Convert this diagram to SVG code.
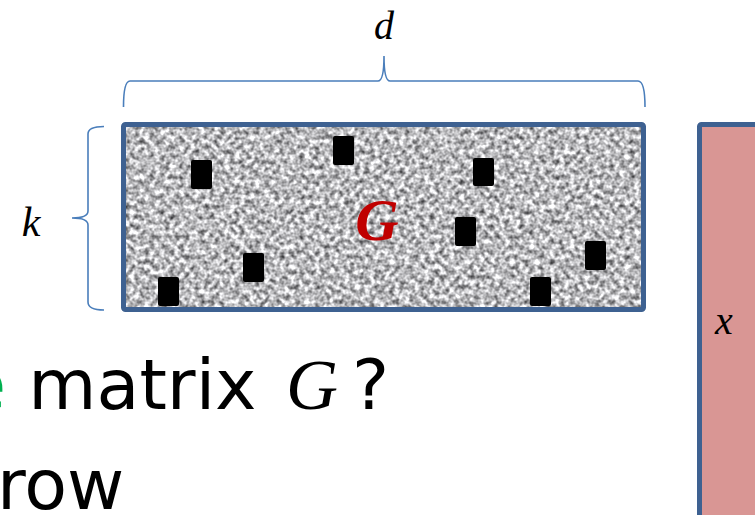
<svg xmlns="http://www.w3.org/2000/svg" width="755" height="515" viewBox="0 0 755 515">
<style>
.brace{fill:none;stroke:#4a7ebb;stroke-width:1.6}
.box{stroke:#3e6191;stroke-width:5}
.blk{fill:#000}
.math{font-family:"Liberation Serif",serif;font-style:italic;fill:#000}
.body{font-family:"DejaVu Sans",sans-serif;font-size:70px;fill:#000}
</style>
<defs>
<filter id="noise" x="0" y="0" width="1" height="1" color-interpolation-filters="sRGB">
<feTurbulence type="fractalNoise" baseFrequency="0.2" numOctaves="2" seed="7" result="n"/>
<feColorMatrix in="n" type="matrix" values="1.3 0 0 0 0.08  1.3 0 0 0 0.08  1.3 0 0 0 0.09  0 0 0 0 1"/>
</filter>
</defs>
<g id="brace-d">
<path class="brace" d="M123.5,107 Q123.5,81 130,81 L378,81 Q384,81 384,56 Q384,81 390,81 L638,81 Q645,81 645,107"/>
<text class="math" x="384" y="39" font-size="40" text-anchor="middle">d</text>
</g>
<g id="brace-k">
<path class="brace" d="M104,126.5 Q88,126.5 88,134 L88,211 Q88,218 72,218 Q88,218 88,225 L88,302 Q88,310 104,310"/>
<text class="math" x="31" y="236" font-size="42" text-anchor="middle">k</text>
</g>
<g id="matrix-G">
<rect x="123.5" y="124.5" width="520" height="185" fill="#b8b8b8"/>
<rect x="123.5" y="124.5" width="520" height="185" filter="url(#noise)"/>
<rect class="blk" x="191" y="160" width="21" height="29" rx="2"/>
<rect class="blk" x="333" y="136" width="21" height="29" rx="2"/>
<rect class="blk" x="243" y="253" width="21" height="29" rx="2"/>
<rect class="blk" x="158" y="277" width="21" height="29" rx="2"/>
<rect class="blk" x="473" y="158" width="21" height="28" rx="2"/>
<rect class="blk" x="455" y="217" width="21" height="29" rx="2"/>
<rect class="blk" x="585" y="241" width="21" height="29" rx="2"/>
<rect class="blk" x="530" y="277" width="21" height="29" rx="2"/>
<rect class="box" x="123.5" y="124.5" width="520" height="185" rx="2" fill="none"/>
<text x="377" y="240" font-family="Liberation Serif, serif" font-style="italic" font-weight="bold" font-size="60" fill="#c00000" text-anchor="middle">G</text>
</g>
<g id="vector-x">
<rect class="box" x="699.5" y="124.5" width="70" height="400" rx="2" fill="#d99694"/>
<text class="math" x="724" y="334" font-size="40" text-anchor="middle">x</text>
</g>
<g id="text">
<text class="body" x="-37" y="409"><tspan fill="#00b050">e</tspan> matrix <tspan x="286" font-family="Liberation Serif, serif" font-style="italic" font-size="72">G</tspan><tspan x="352">?</tspan></text>
<text class="body" x="-3" y="509">row</text>
</g>
</svg>
